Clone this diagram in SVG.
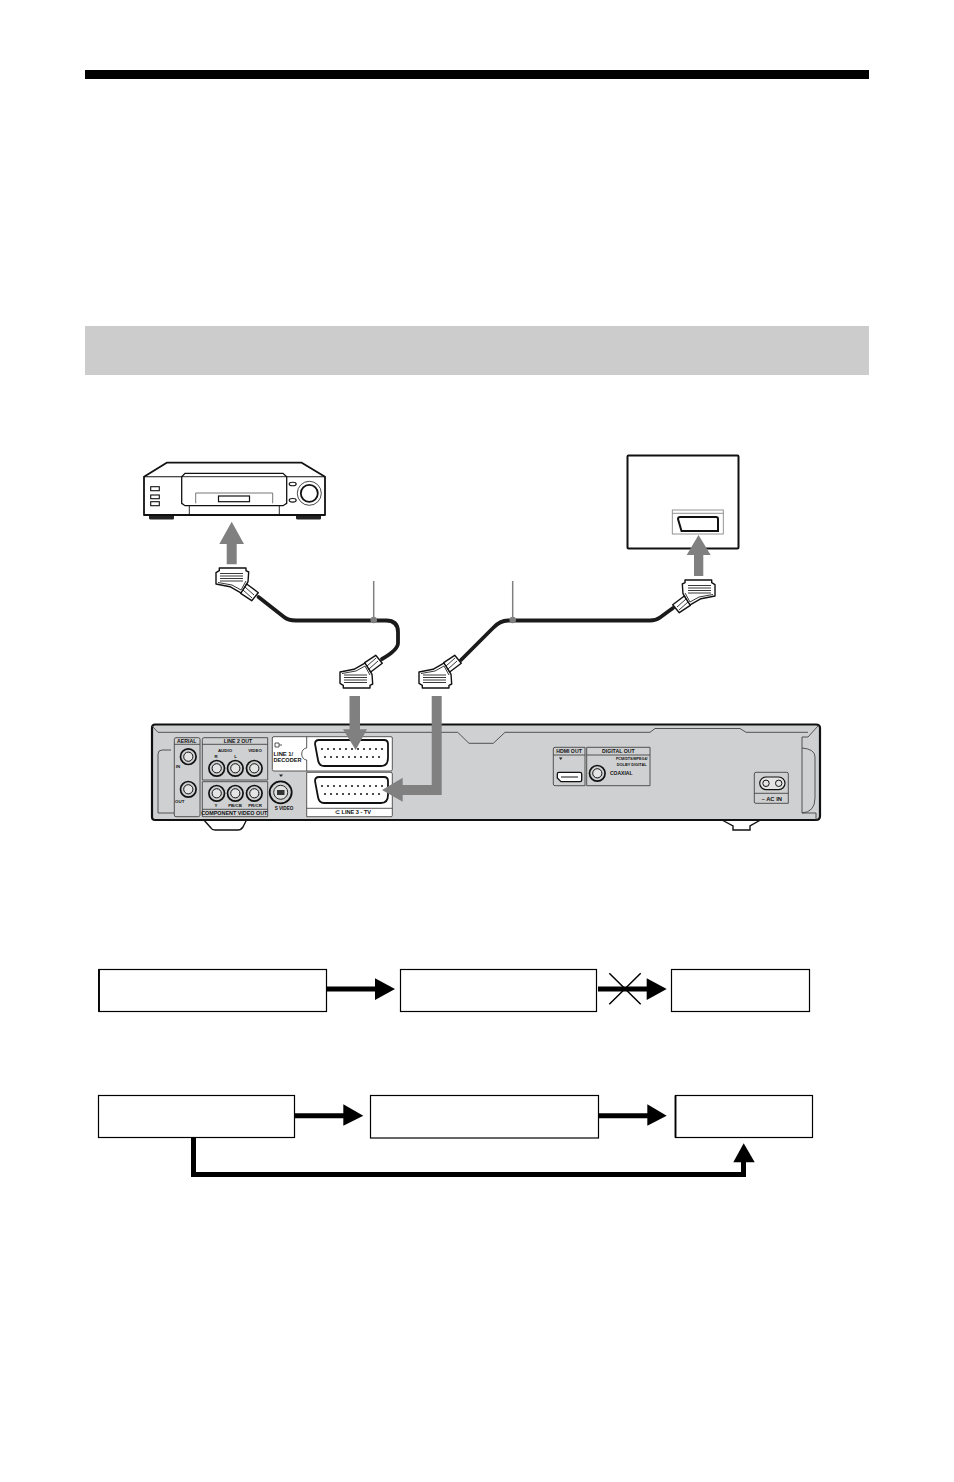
<svg xmlns="http://www.w3.org/2000/svg" xmlns:xlink="http://www.w3.org/1999/xlink" width="954" height="1482" viewBox="0 0 954 1482">
<style>
.box{fill:#fff;stroke:#000;stroke-width:1.2}
.blk{fill:none;stroke:#000;stroke-width:5}
.cable{fill:none;stroke:#1a1a1a;stroke-width:3.8;stroke-linecap:round;stroke-linejoin:round}
.call{stroke:#808080;stroke-width:1.5}
.ga{fill:#808080}
.o{fill:#fff;stroke:#111;stroke-width:1.4;stroke-linejoin:round}
.t{fill:none;stroke:#222;stroke-width:.9}
.p{fill:none;stroke:#444;stroke-width:.9}
.w{fill:#fff;stroke:#333;stroke-width:.8}
.lb{font-family:"Liberation Sans",Arial,sans-serif;font-size:5.2px;font-weight:bold;fill:#111;text-anchor:middle}
.ls{text-anchor:start}
.jack{fill:#cfd0d1;stroke:#111;stroke-width:1.7}
</style>
<defs>
<g id="plug">
<path class="o" d="M219.3,570.7V568H246V570.7L248.7,572L248,581.7L241.7,593.3L230,586.7L216,584V572.7Z"/>
<path class="t" d="M220,573.5H243M220,576H243M220,578.5H243M220,581H243M218,582.5L232,585L241,590L246,581"/>
<path class="o" d="M246.7,584L258.3,592.7L251.7,600.7L240.7,593.3Z"/>
<path class="t" d="M245,587L254,595M243,590L252,598"/>
</g>
<g id="scart">
<path class="w" style="stroke:#111;stroke-width:1.8" d="M4,0H69Q73,0 73,4V18Q73,26 66,26H9Q4,26 3,20L0,4Q0,0 4,0Z"/>
<g fill="#111"><circle cx="7" cy="9" r="1"/><circle cx="13" cy="9" r="1"/><circle cx="19" cy="9" r="1"/><circle cx="25" cy="9" r="1"/><circle cx="31" cy="9" r="1"/><circle cx="37" cy="9" r="1"/><circle cx="43" cy="9" r="1"/><circle cx="49" cy="9" r="1"/><circle cx="55" cy="9" r="1"/><circle cx="61" cy="9" r="1"/><circle cx="67" cy="9" r="1"/><circle cx="10" cy="17" r="1"/><circle cx="16" cy="17" r="1"/><circle cx="22" cy="17" r="1"/><circle cx="28" cy="17" r="1"/><circle cx="34" cy="17" r="1"/><circle cx="40" cy="17" r="1"/><circle cx="46" cy="17" r="1"/><circle cx="52" cy="17" r="1"/><circle cx="58" cy="17" r="1"/><circle cx="64" cy="17" r="1"/></g>
</g>
<g id="jk"><circle class="jack" r="7.8"/><circle fill="#e4e4e4" stroke="#111" stroke-width="1" r="4.6"/></g>
</defs>

<g id="header">
<rect x="85" y="70" width="784" height="9" fill="#000"/>
<rect x="85" y="326" width="784" height="49" fill="#ccc"/>
</g>

<g id="vcr">
<path d="M149,515V518.5Q149,519.5 151,519.5H173Q174,519.5 174,518V515ZM296,515V518.5Q296,519.5 298,519.5H320Q321,519.5 321,518V515Z" fill="#222"/>
<path d="M166.7,462.7H301.7L325,476.7V515H144V476.7Z" fill="#fff" stroke="#111" stroke-width="1.8" stroke-linejoin="round"/>
<path d="M144,476.7H181.7M286.7,476.7H325" stroke="#111" stroke-width="1.1" fill="none"/>
<path d="M185,473.3H283L286.7,476.7V503.3L283,505.7H185L181.7,503.3V476.7Z" fill="#fff" stroke="#111" stroke-width="1.3"/>
<path d="M181.7,476.7H286.7" stroke="#111" stroke-width=".9"/>
<path d="M195.7,503.3V493H272.7V503.3" fill="none" stroke="#777" stroke-width="1"/>
<rect x="218.5" y="496" width="31" height="5.7" fill="#fff" stroke="#111" stroke-width="1.2"/>
<path d="M189.3,505.7V514.5M279.3,505.7V514.5" stroke="#111" stroke-width=".9"/>
<g fill="#fff" stroke="#111" stroke-width="1.1"><rect x="150.7" y="486.7" width="8.6" height="4"/><rect x="150.7" y="495" width="8.6" height="3.7"/><rect x="150.7" y="501.7" width="8.6" height="4"/>
<ellipse cx="292.7" cy="484" rx="3.5" ry="1.8"/><ellipse cx="292.7" cy="500.3" rx="3.5" ry="1.8"/></g>
<circle cx="309.3" cy="493.3" r="12" fill="#fff" stroke="#333" stroke-width=".9"/>
<circle cx="309.3" cy="493.3" r="8.5" fill="#fff" stroke="#111" stroke-width="1.8"/>
</g>

<g id="tv">
<rect x="627.5" y="455.5" width="111" height="93" rx="1" fill="#fff" stroke="#111" stroke-width="2"/>
<rect x="672.3" y="510" width="51" height="24" fill="#fff" stroke="#888" stroke-width=".9"/>
<path d="M672.3,513.3H723.3" stroke="#888" stroke-width=".9"/>
<path d="M680,517H716Q718,517 718,519V531H681.5L678,519Q678,517 680,517Z" fill="#fff" stroke="#111" stroke-width="2"/>
</g>

<g id="dvd-recorder">
<path d="M203,819L211,828Q212,830 215,830H238Q241,830 243,827L247,819ZM722,820L733,826V830H750V826L764,818Z" fill="#fff" stroke="#111" stroke-width="1.4"/>
<path d="M155,724.5H816Q820,724.5 820,728V816Q820,820 816,820H155Q152,820 152,817V728Q152,724.5 155,724.5Z" fill="#cfd0d1" stroke="#111" stroke-width="2.2"/>
<path class="p" d="M152,726L158,732.3H457.7L469,743.3H493.3L505,732.3H650L655,728.5H740L746,732.3H808"/>
<path class="p" d="M818,726L808,737H802V813H816V820M802,748Q815,749 815,757V798Q815,812 802,813"/>
<path class="p" d="M171,750H162Q158,750 158,754V813H174"/>
<path class="p" d="M174.3,739.5Q174.3,737.7 176,737.7H198.5Q200,737.7 200,739.5V815Q200,816.7 198.5,816.7H176Q174.3,816.7 174.3,815ZM174.3,744.3H200"/>
<use href="#jk" x="188.3" y="756.7"/><use href="#jk" x="188.3" y="789.3"/>
<path class="p" d="M202.3,739.5Q202.3,737.7 204,737.7H267.7V780H202.3ZM202.3,744.3H267.7"/>
<path class="p" d="M202.3,781.7H267.7V816.7H202.3ZM202.3,809.3H267.7"/>
<use href="#jk" x="216.7" y="768.3"/><use href="#jk" x="235.3" y="768.3"/><use href="#jk" x="254.3" y="768.3"/>
<use href="#jk" x="216.7" y="793.3"/><use href="#jk" x="235.3" y="793.3"/><use href="#jk" x="254.3" y="793.3"/>
<circle cx="280.7" cy="792.3" r="11" fill="#cfd0d1" stroke="#111" stroke-width="1.8"/>
<circle cx="280.7" cy="792.3" r="7" fill="#e0e0e0" stroke="#222" stroke-width="1"/>
<rect x="277" y="790" width="7.5" height="5" fill="#333"/>
<path d="M279,774.5H283L281,777Z" fill="#222"/>
<path class="w" d="M274,736.7H391Q392.3,736.7 392.3,738V769.5Q392.3,771 391,771H274Q272.3,771 272.3,769.5V738Q272.3,736.7 274,736.7Z"/>
<path class="p" d="M306.7,736.7V748A5,6 0 0 0 306.7,760V771"/>
<path class="w" d="M306.7,772.3H391Q392.3,772.3 392.3,774V815.5Q392.3,816.7 391,816.7H306.7ZM306.7,808.3H392.3"/>
<use href="#scart" x="315" y="740"/>
<use href="#scart" x="315" y="777"/>
<path class="p" d="M275,743H279V747H275ZM279,745H282"/>
<path class="p" d="M553.3,749Q553.3,747.3 555,747.3H585V785.7H555Q553.3,785.7 553.3,784ZM553.3,755H585"/>
<path d="M559,757.5H562.5L560.7,760Z" fill="#222"/>
<path d="M559,772.3H580Q581.7,772.3 581.7,774V780Q581.7,781.7 580,781.7H561L557.3,778V774Q557.3,772.3 559,772.3Z" fill="#fff" stroke="#111" stroke-width="1.3"/>
<path d="M561,777H578" stroke="#111" stroke-width="1"/>
<path class="p" d="M586.7,747.3H650V785.7H586.7ZM586.7,755H650"/>
<use href="#jk" x="597.3" y="773.3"/>
<path class="p" d="M756,772.3H787Q788.3,772.3 788.3,774V803.3H756Q754.3,803.3 754.3,802V774Q754.3,772.3 756,772.3ZM754.3,793.3H788.3"/>
<path d="M766,777H778.7A6.3,6.3 0 0 1 778.7,789.6H766A6.3,6.3 0 0 1 766,777Z" fill="#e4e4e4" stroke="#111" stroke-width="1.2"/>
<circle cx="766" cy="783.3" r="3.2" fill="none" stroke="#111"/><circle cx="778.7" cy="783.3" r="3.2" fill="none" stroke="#111"/>
<text class="lb" x="186.7" y="743">AERIAL</text>
<text class="lb" x="178" y="767.7" style="font-size:4.4px">IN</text>
<text class="lb" x="179.7" y="803.3" style="font-size:4.4px">OUT</text>
<text class="lb" x="238" y="743">LINE 2 OUT</text>
<text class="lb" x="225" y="752.3" style="font-size:4.4px">AUDIO</text>
<text class="lb" x="216" y="758.3" style="font-size:4.4px">R</text>
<text class="lb" x="235.7" y="758.3" style="font-size:4.4px">L</text>
<text class="lb" x="255" y="752.3" style="font-size:4.4px">VIDEO</text>
<text class="lb" x="216" y="806.7" style="font-size:4.4px">Y</text>
<text class="lb" x="235" y="806.7" style="font-size:4.4px">PB/CB</text>
<text class="lb" x="255" y="806.7" style="font-size:4.4px">PR/CR</text>
<text class="lb" x="234.3" y="814.7" style="font-size:5.4px">COMPONENT VIDEO OUT</text>
<text class="lb" x="284" y="810.3" style="font-size:4.6px">S VIDEO</text>
<text class="lb ls" x="273.5" y="755.7" style="font-size:5.8px">LINE 1/</text>
<text class="lb ls" x="273.5" y="761.7" style="font-size:5.6px">DECODER</text>
<text class="lb" x="353" y="814" style="font-size:5.6px">⊂ LINE 3 - TV</text>
<text class="lb" x="569" y="752.7">HDMI OUT</text>
<text class="lb" x="618.3" y="752.7">DIGITAL OUT</text>
<text class="lb" x="631.7" y="760" style="font-size:3.7px">PCM/DTS/MPEG4/</text>
<text class="lb" x="631.7" y="766" style="font-size:3.9px">DOLBY DIGITAL</text>
<text class="lb ls" x="610" y="775" style="font-size:5px">COAXIAL</text>
<text class="lb" x="771.7" y="800.7" style="font-size:5.8px">~ AC IN</text>
</g>

<g id="plug-vcr"><use href="#plug"/></g>
<g id="plug-line1"><use href="#plug" transform="matrix(1,0,0,-1,124,1256)"/></g>
<g id="plug-line3"><use href="#plug" transform="matrix(1,0,0,-1,203,1256)"/></g>
<g id="plug-tv"><use href="#plug" transform="matrix(-1,0,0,1,931,12)"/></g>

<g id="connectors">
<path class="cable" d="M258.5,597L284,617Q288,620.5 296,620.5H386Q398,620.5 398,632V643Q398,650 382,659"/>
<path class="cable" d="M461,660L493,628Q500,620.5 508,620.5H650Q656,620.5 660,617.5L673,608"/>
<path class="call" d="M373.7,581V620"/><circle cx="373.7" cy="620" r="3.3" fill="#808080"/>
<path class="call" d="M512.7,581V620"/><circle cx="512.7" cy="620" r="3.3" fill="#808080"/>
<path class="ga" d="M231.7,521.7L244,544H236.7V564.3H226.7V544H219.3Z"/>
<path class="ga" d="M698.5,535L710.7,555H703.3V576H694V555H686.7Z"/>
<path class="ga" d="M349.5,696H360V729.3H367L355.7,750L343,729.3H349.5Z"/>
<path class="ga" d="M431.7,696H441.7V795H402.7V801.7L382,790L402.7,777.7V785H431.7Z"/>
<g id="flow-top">
<path class="blk" d="M326,989H376"/><path d="M375,978.3L395,989L375,1000Z"/>
<path class="blk" d="M598,989H648"/><path d="M646.7,978.3L666.7,989L646.7,1000Z"/>
<path d="M609.3,973.3L640.7,1004.3M640.7,973.3L609.3,1004.3" stroke="#000" stroke-width="1.5" fill="none"/>
</g>
<g id="flow-bottom">
<path class="blk" d="M294,1115.7H344"/><path d="M343.3,1104.3L363.3,1115.7L343.3,1125.7Z"/>
<path class="blk" d="M598,1115.7H648"/><path d="M647.3,1104.3L666.7,1115.7L647.3,1125.7Z"/>
<path class="blk" d="M193.5,1138V1174.5H743.5V1162"/><path d="M733.3,1162.3L743.7,1143.3L754.7,1162.3Z"/>
</g>
</g>

<g id="box-1"><rect class="box" x="98.8" y="969.5" width="227.7" height="42"/><path d="M99,969.5V1011.5" stroke="#000" stroke-width="1.8"/></g>
<g id="box-2"><rect class="box" x="400.5" y="969.5" width="196" height="42"/></g>
<g id="box-3"><rect class="box" x="671.5" y="969.5" width="138" height="42"/></g>
<g id="box-4"><rect class="box" x="98.5" y="1095.5" width="196" height="42"/></g>
<g id="box-5"><rect class="box" x="370.5" y="1095.5" width="228" height="42.5"/></g>
<g id="box-6"><rect class="box" x="675.5" y="1095.5" width="137" height="42"/><path d="M675.5,1095.5V1137.5" stroke="#000" stroke-width="1.8"/></g>
</svg>
